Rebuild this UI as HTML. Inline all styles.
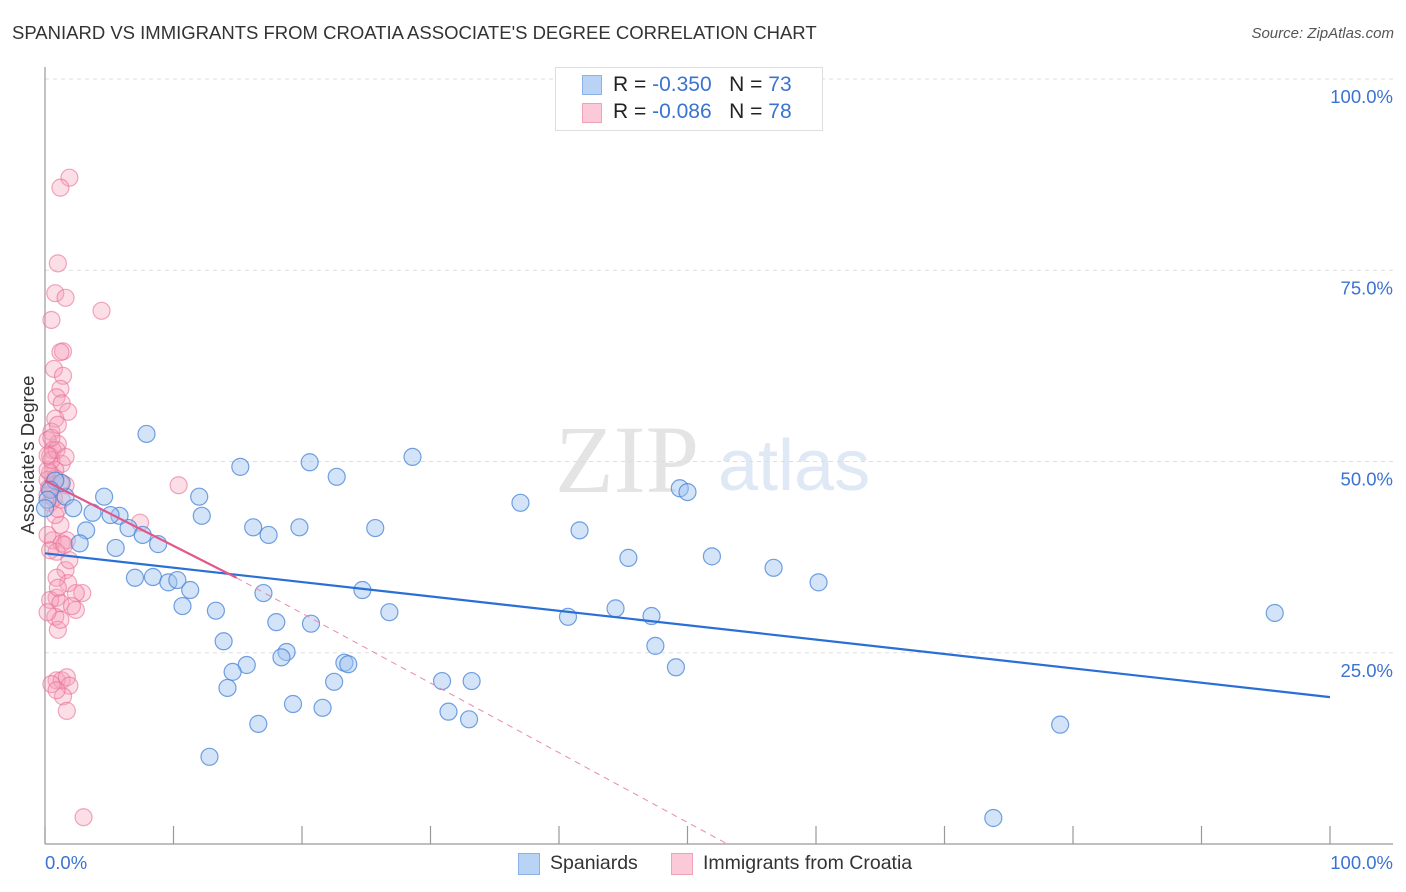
<!DOCTYPE html>
<html><head><meta charset="utf-8">
<style>
body{margin:0;background:#fff;font-family:"Liberation Sans",sans-serif;}
#wrap{position:relative;width:1406px;height:892px;overflow:hidden;}
.t{position:absolute;white-space:nowrap;}
</style></head><body>
<div id="wrap">
<div class="t" style="left:12px;top:22px;font-size:18.5px;color:#333;">SPANIARD VS IMMIGRANTS FROM CROATIA ASSOCIATE'S DEGREE CORRELATION CHART</div>
<div class="t" style="right:12px;top:25px;font-size:15px;color:#555;font-style:italic;">Source: ZipAtlas.com</div>
<svg id="plot" width="1406" height="892" style="position:absolute;left:0;top:0"></svg>
<div class="t" style="left:555px;top:67px;width:266px;height:62px;border:1px solid #ddd;background:#fff;"></div>
<div class="t" style="left:582px;top:75px;width:20px;height:20px;background:#b9d3f5;border:1px solid #8ab2e6;box-sizing:border-box;"></div>
<div class="t" style="left:582px;top:103px;width:20px;height:20px;background:#fbc9d7;border:1px solid #f0a2b9;box-sizing:border-box;"></div>
<div class="t" style="left:613px;top:73px;font-size:21px;color:#222;">R = <span style="color:#3a73d1">-0.350</span>&nbsp;&nbsp;&nbsp;N = <span style="color:#3a73d1">73</span></div>
<div class="t" style="left:613px;top:100px;font-size:21px;color:#222;">R = <span style="color:#3a73d1">-0.086</span>&nbsp;&nbsp;&nbsp;N = <span style="color:#3a73d1">78</span></div>
<div class="t" style="left:28px;top:455px;font-size:18.5px;color:#333;transform:translate(-50%,-50%) rotate(-90deg);">Associate's Degree</div>
<div class="t" style="left:45px;top:852px;font-size:18.5px;color:#3a73d1;">0.0%</div>
<div class="t" style="right:13px;top:852px;font-size:18.5px;color:#3a73d1;">100.0%</div>
<div class="t" style="left:518px;top:853px;width:22px;height:22px;background:#b9d3f5;border:1px solid #8ab2e6;box-sizing:border-box;"></div>
<div class="t" style="left:550px;top:852px;font-size:19.5px;color:#333;">Spaniards</div>
<div class="t" style="left:671px;top:853px;width:22px;height:22px;background:#fbc9d7;border:1px solid #f0a2b9;box-sizing:border-box;"></div>
<div class="t" style="left:703px;top:852px;font-size:19.5px;color:#333;">Immigrants from Croatia</div>
</div>
<script>
const yTicks=[25,50,75,100];
const yTickLabels=["25.0%","50.0%","75.0%","100.0%"];
const xTicks=[0,10,20,30,40,50,60,70,80,90,100];
const blueX=[7.9,15.2,20.6,22.7,28.6,37.0,41.6,49.4,50.0,45.4,51.9,56.7,60.2,95.7,79.0,73.8,12.8,4.6,1.6,1.3,2.2,3.7,5.8,5.1,6.5,7.6,8.8,3.2,2.7,5.5,12.0,12.2,16.2,17.4,19.8,25.7,7.0,8.4,9.6,10.3,11.3,10.7,13.3,17.0,24.7,26.8,13.9,18.0,20.7,18.8,18.4,23.3,23.6,15.7,14.6,14.2,22.5,30.9,33.2,19.3,21.6,16.6,31.4,33.0,40.7,44.4,47.2,47.5,49.1,0.8,0.4,0.2,0.0];
const blueY=[53.6,49.3,49.9,48.0,50.6,44.6,41.0,46.5,46.0,37.4,37.6,36.1,34.2,30.2,15.6,3.4,11.4,45.4,45.4,47.2,43.9,43.3,42.9,43.0,41.3,40.4,39.2,41.0,39.3,38.7,45.4,42.9,41.4,40.4,41.4,41.3,34.8,34.9,34.2,34.5,33.2,31.1,30.5,32.8,33.2,30.3,26.5,29.0,28.8,25.1,24.4,23.7,23.5,23.4,22.5,20.4,21.2,21.3,21.3,18.3,17.8,15.7,17.3,16.3,29.7,30.8,29.8,25.9,23.1,47.5,46.3,45.0,43.9];
const pinkX=[1.9,1.2,1.0,0.8,1.6,4.4,0.5,1.4,1.2,0.7,1.4,1.2,0.9,1.3,1.8,0.8,0.5,1.0,0.2,0.6,0.4,1.3,0.8,0.4,0.2,0.8,1.6,0.5,0.2,0.4,10.4,1.2,7.4,0.6,1.3,1.7,0.9,1.6,1.8,0.9,2.9,2.4,0.4,1.2,2.4,0.8,1.0,1.2,0.9,1.3,1.7,1.9,1.4,1.7,3.0,0.2,0.4,0.8,1.0,0.2,0.5,0.9,0.2,0.5,1.0,0.3,0.7,1.2,1.6,1.3,1.5,1.9,0.9,1.0,0.2,2.1,0.5,0.9];
const pinkY=[87.1,85.8,75.9,72.0,71.4,69.7,68.5,64.4,64.3,62.1,61.2,59.5,58.4,57.6,56.5,55.6,53.9,52.3,52.8,51.5,50.7,49.7,48.9,48.5,47.6,47.8,46.9,46.3,45.6,44.6,46.9,41.7,42.0,39.7,39.3,39.7,38.2,35.8,34.1,32.2,32.8,32.8,31.9,31.5,30.6,29.7,28.0,29.3,21.4,21.4,21.8,20.7,19.3,17.4,3.5,40.4,38.4,43.0,43.8,48.9,50.2,51.5,50.8,53.1,54.8,46.5,45.2,47.2,50.6,45.0,39.1,37.1,34.8,33.5,30.3,31.1,20.9,20.1];
const blueTrend=[0,38.0,100,19.2];
const pinkTrend=[0,47.5,14.9,34.8,53.1,0];

const NS="http://www.w3.org/2000/svg";
const svg=document.getElementById('plot');
const X0=45,X1=1330,Y0=844,Y100=79;
const sx=v=>X0+(X1-X0)*v/100;
const sy=v=>Y0-(Y0-Y100)*v/100;
function mk(tag,attrs){const e=document.createElementNS(NS,tag);for(const k in attrs)e.setAttribute(k,attrs[k]);svg.appendChild(e);return e;}
let wm=mk('text',{x:555,y:492,'font-size':96,'font-family':'Liberation Serif,serif',fill:'#e4e4e4'});wm.textContent='ZIP';


let wm2=mk('text',{x:718,y:490,'font-size':72,'font-family':'Liberation Sans,sans-serif',fill:'#dfe8f5'});wm2.textContent='atlas';


yTicks.forEach((v,i)=>{
 const g=mk('line',{x1:X0,x2:1393,y1:sy(v),y2:sy(v),stroke:'#ddd','stroke-dasharray':'4,4'});
 
 
 const t=mk('text',{x:1393,y:sy(v)+24,'text-anchor':'end','font-size':18.5,fill:'#3a73d1','font-family':'Liberation Sans,sans-serif'});
 t.textContent=yTickLabels[i];
 
 
});
let ax=mk('line',{x1:X0,x2:X0,y1:67,y2:Y0,stroke:'#999','stroke-width':1.2});


let bx=mk('line',{x1:X0,x2:1393,y1:Y0,y2:Y0,stroke:'#999','stroke-width':1.2});


xTicks.forEach(v=>{
 const l=mk('line',{x1:sx(v),x2:sx(v),y1:826,y2:Y0,stroke:'#999','stroke-width':1.2});
 
 
});
pinkX.forEach((x,i)=>{
 const c=mk('circle',{cx:sx(x),cy:sy(pinkY[i]),r:8.5,fill:'rgba(246,160,186,0.35)',stroke:'rgba(232,110,150,0.6)','stroke-width':1.2});
 
 
});
blueX.forEach((x,i)=>{
 const c=mk('circle',{cx:sx(x),cy:sy(blueY[i]),r:8.5,fill:'rgba(160,196,240,0.45)',stroke:'rgba(70,130,215,0.75)','stroke-width':1.2});
 
 
});
let bt=mk('line',{x1:sx(blueTrend[0]),y1:sy(blueTrend[1]),x2:sx(blueTrend[2]),y2:sy(blueTrend[3]),stroke:'#2a6fd6','stroke-width':2.2});


let pt=mk('line',{x1:sx(pinkTrend[0]),y1:sy(pinkTrend[1]),x2:sx(pinkTrend[2]),y2:sy(pinkTrend[3]),stroke:'#e2588a','stroke-width':2.2});


let pd=mk('line',{x1:sx(pinkTrend[2]),y1:sy(pinkTrend[3]),x2:sx(pinkTrend[4]),y2:sy(pinkTrend[5]),stroke:'#e88aab','stroke-width':1,'stroke-dasharray':'6,5'});


</script>
</body></html>
